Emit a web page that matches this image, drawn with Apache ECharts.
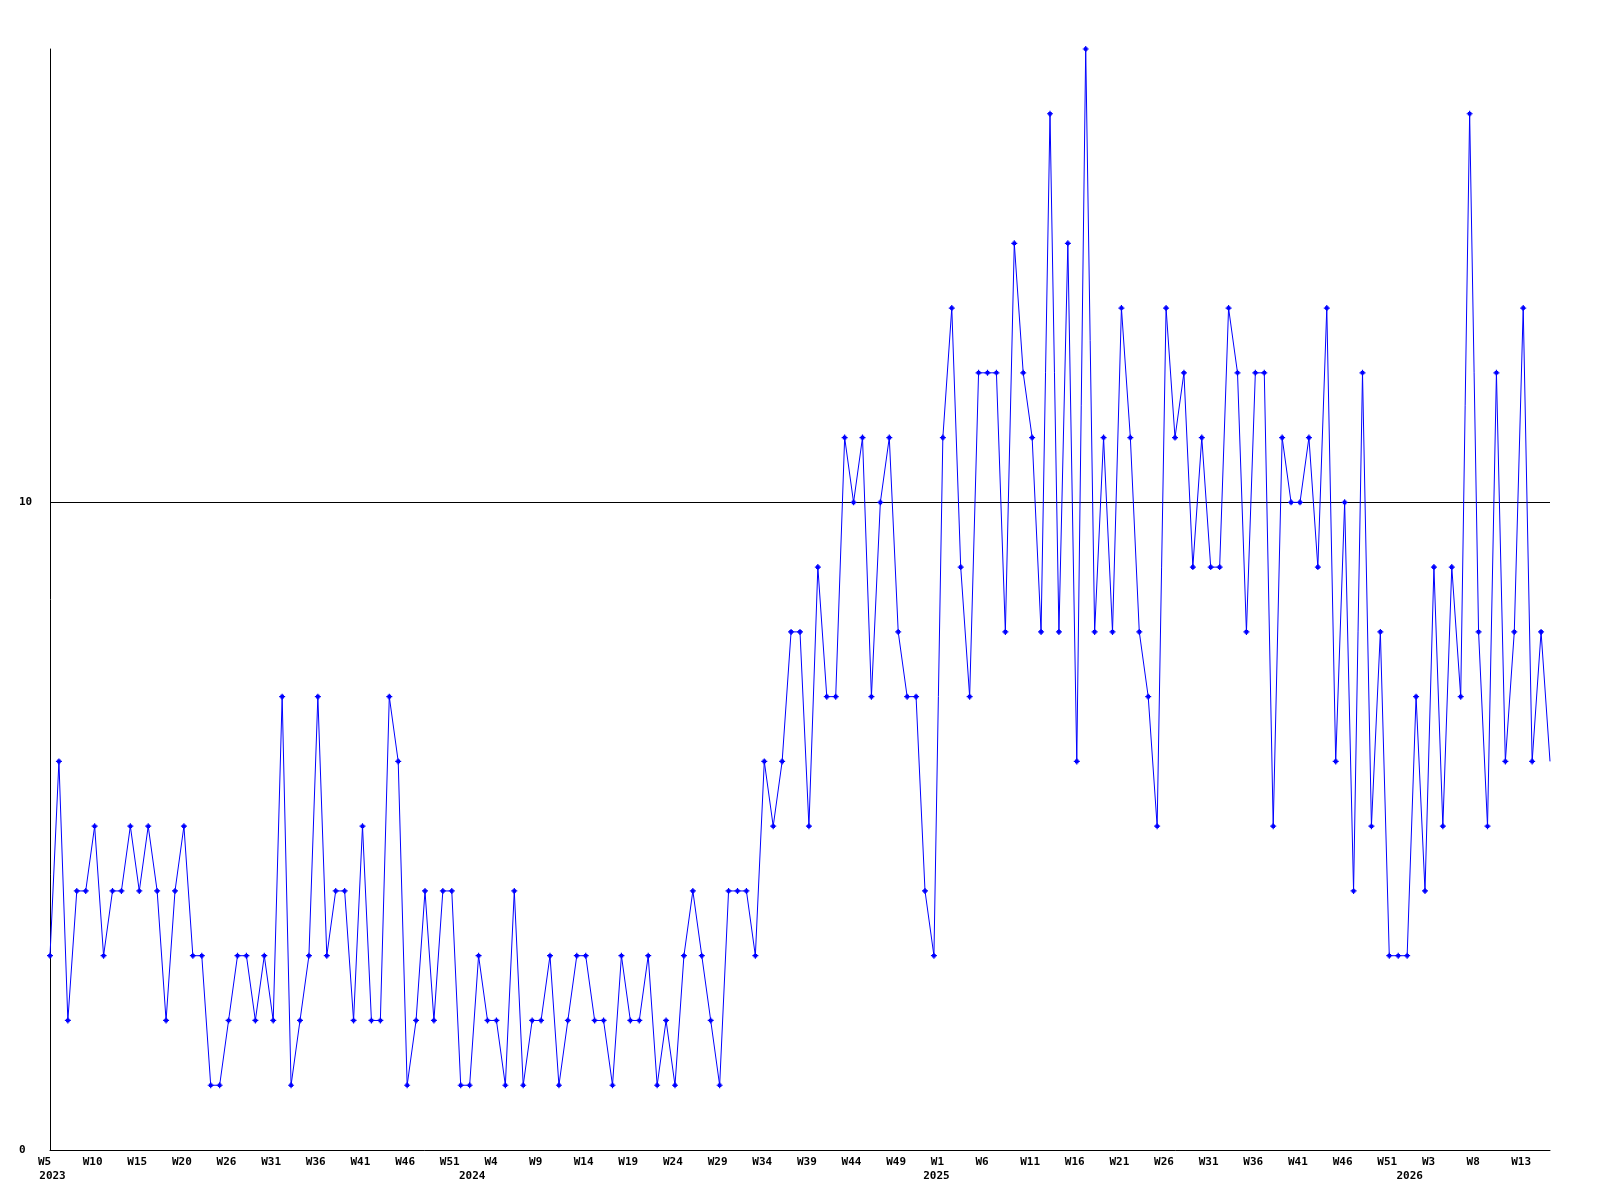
<!DOCTYPE html>
<html>
<head>
<meta charset="utf-8">
<script src="https://cdn.jsdelivr.net/npm/echarts@6/dist/echarts.min.js"></script>
<style>
html,body{margin:0;padding:0;background:#fff;}
#chart{width:1600px;height:1200px;}
</style>
</head>
<body>
<div id="chart"></div>
<script>
// weekly values, 2023 W5 .. 2026 W15 (169 points)
const values = [
  3,6,2,4,4,5,3,4,4,5,
  4,5,4,2,4,5,3,3,1,1,
  2,3,3,2,3,2,7,1,2,3,
  7,3,4,4,2,5,2,2,7,6,
  1,2,4,2,4,4,1,1,3,2,
  2,1,4,1,2,2,3,1,2,3,
  3,2,2,1,3,2,2,3,1,2,
  1,3,4,3,2,1,4,4,4,3,
  6,5,6,8,8,5,9,7,7,11,
  10,11,7,10,11,8,7,7,4,3,
  11,13,9,7,12,12,12,8,14,12,
  11,8,16,8,14,6,17,8,11,8,
  13,11,8,7,5,13,11,12,9,11,
  9,9,13,12,8,12,12,5,11,10,
  10,11,9,13,6,10,4,12,5,8,
  3,3,3,7,4,9,5,9,7,16,
  8,5,12,6,8,13,6,8,6
];
// week tick labels shown at every 5th point
const weekTicks = ['W5','W10','W15','W20','W26','W31','W36','W41','W46','W51',
  'W4','W9','W14','W19','W24','W29','W34','W39','W44','W49',
  'W1','W6','W11','W16','W21','W26','W31','W36','W41','W46','W51',
  'W3','W8','W13'];
const yearLabels = ['2023','2024','2025','2026'];
const yearIndex = [0, 47, 99, 152];
const yTicks = [0, 10];

const categories = values.map((v, i) => String(i));
const font = 'DejaVu Sans Mono';

const chart = echarts.init(document.getElementById('chart'), null, {renderer: 'canvas'});
chart.setOption({
  animation: false,
  backgroundColor: '#ffffff',
  grid: {left: 50, top: 49, width: 1500, height: 1101, containLabel: false},
  xAxis: [{
    type: 'category',
    data: categories,
    boundaryGap: false,
    axisLine: {show: true, lineStyle: {color: '#000', width: 1}},
    axisTick: {show: false},
    splitLine: {show: false},
    axisLabel: {
      interval: 4,
      color: '#000',
      fontFamily: font,
      fontWeight: 'bold',
      fontSize: 11,
      align: 'left',
      verticalAlign: 'top',
      margin: 7,
      padding: [0, 0, 0, -12],
      formatter: (v, i) => weekTicks[i / 5] || ''
    }
  }, {
    type: 'category',
    data: categories,
    boundaryGap: false,
    position: 'bottom',
    offset: 14,
    axisLine: {show: false},
    axisTick: {show: false},
    splitLine: {show: false},
    axisLabel: {
      interval: (i) => yearIndex.includes(i),
      color: '#000',
      fontFamily: font,
      fontWeight: 'bold',
      fontSize: 11,
      align: 'center',
      verticalAlign: 'top',
      margin: 7,
      padding: [0, 0, 0, 5],
      formatter: (v, i) => yearLabels[yearIndex.indexOf(i)] || ''
    }
  }],
  yAxis: {
    type: 'value',
    min: 0,
    max: 17,
    interval: 10,
    axisLine: {show: true, lineStyle: {color: '#000', width: 1}},
    axisTick: {show: false},
    splitLine: {show: true, showMaxLine: false, showMinLine: false, lineStyle: {color: '#000', width: 1}},
    axisLabel: {
      color: '#000',
      fontFamily: font,
      fontWeight: 'bold',
      fontSize: 11,
      align: 'left',
      margin: 31,
      showMaxLabel: false,
      formatter: (v) => yTicks.includes(v) ? String(v) : ''
    }
  },
  series: [{
    type: 'line',
    xAxisIndex: 0,
    data: values.map((v, i) => i === values.length - 1 ? {value: v, symbol: 'none'} : v),
    showAllSymbol: true,
    symbol: 'path://M2,0H3V1H4V2H5V3H4V4H3V5H2V4H1V3H0V2H1V1H2Z',
    symbolSize: 6,
    lineStyle: {color: '#0000ff', width: 1},
    itemStyle: {color: '#0000ff'},
    clip: true
  }]
});
</script>
</body>
</html>
